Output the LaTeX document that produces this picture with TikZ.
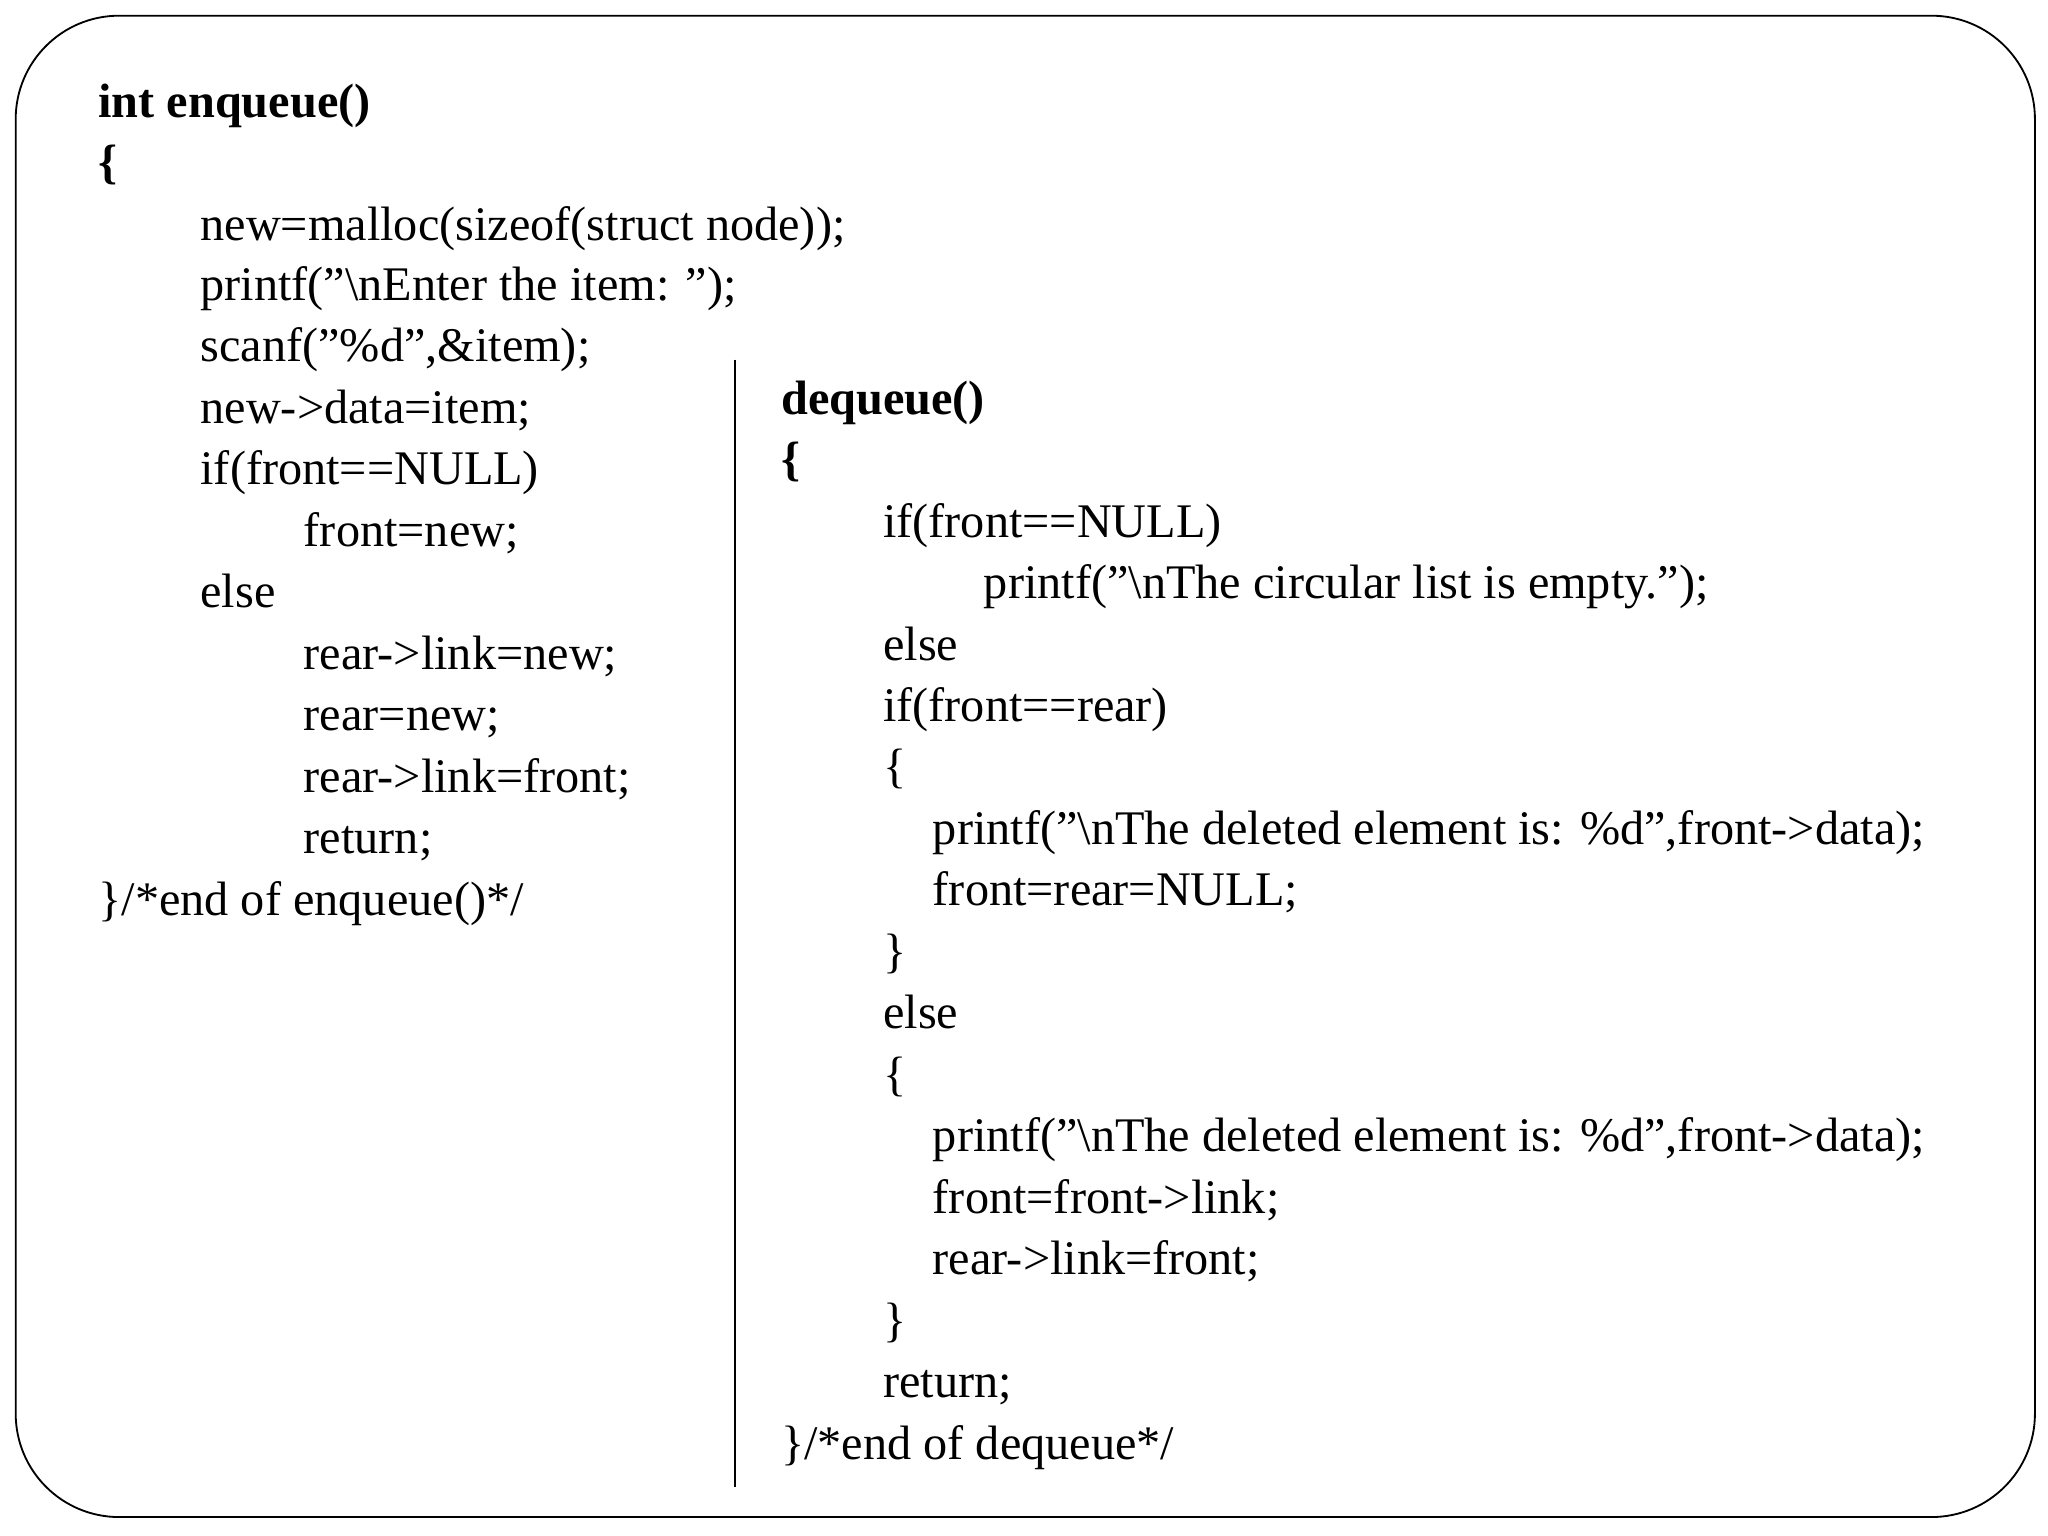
\documentclass[tikz,border=0pt]{standalone}
\usepackage{fontspec}
\setmainfont{Liberation Serif}
\begin{document}
\begin{tikzpicture}[x=0.02cm,y=-0.02cm,
  ln/.style={anchor=west,inner sep=0pt,font=\fontsize{21}{25}\selectfont,text height=15pt,text depth=4pt}]
\useasboundingbox (0,0) rectangle (1566,1174);
\draw[line width=0.8pt,rounded corners=45] (12,12) rectangle (1556,1160);
\draw[line width=0.8pt] (562,275) coordinate (vt) -- (562,1137) coordinate (vb);
\node[ln,font=\fontsize{21}{25}\selectfont\bfseries] (a1) at (75,80) {int enqueue()};
\node[ln,font=\fontsize{21}{25}\selectfont\bfseries] (a2) at (75,127) {\{};
\node[ln] (a3) at (153,174) {new=malloc(sizeof(struct node));};
\node[ln] (a4) at (153,220) {printf("\textbackslash nEnter the item: ");};
\node[ln] (a5) at (153,267) {scanf("\%d",\&item);};
\node[ln] (a6) at (153,314) {new->data=item;};
\node[ln] (a7) at (153,361) {if(front==NULL)};
\node[ln] (a8) at (232,408) {front=new;};
\node[ln] (a9) at (153,455) {else};
\node[ln] (a10) at (232,502) {rear->link=new;};
\node[ln] (a11) at (232,549) {rear=new;};
\node[ln] (a12) at (232,596) {rear->link=front;};
\node[ln] (a13) at (232,643) {return;};
\node[ln] (a14) at (75,690) {\}/*end of enqueue()*/};
\node[ln,font=\fontsize{21}{25}\selectfont\bfseries] (b1) at (597,307) {dequeue()};
\node[ln,font=\fontsize{21}{25}\selectfont\bfseries] (b2) at (597,354) {\{};
\node[ln] (b3) at (675,401) {if(front==NULL)};
\node[ln] (b4) at (752,448) {printf("\textbackslash nThe circular list is empty.");};
\node[ln] (b5) at (675,495) {else};
\node[ln] (b6) at (675,542) {if(front==rear)};
\node[ln] (b7) at (675,589) {\{};
\node[ln] (b8) at (713,636) {printf("\textbackslash nThe deleted element is: \%d",front->data);};
\node[ln] (b9) at (713,683) {front=rear=NULL;};
\node[ln] (b10) at (675,730) {\}};
\node[ln] (b11) at (675,777) {else};
\node[ln] (b12) at (675,824) {\{};
\node[ln] (b13) at (713,871) {printf("\textbackslash nThe deleted element is: \%d",front->data);};
\node[ln] (b14) at (713,918) {front=front->link;};
\node[ln] (b15) at (713,965) {rear->link=front;};
\node[ln] (b16) at (675,1012) {\}};
\node[ln] (b17) at (675,1059) {return;};
\node[ln] (b18) at (597,1106) {\}/*end of dequeue*/};
\end{tikzpicture}
\end{document}
